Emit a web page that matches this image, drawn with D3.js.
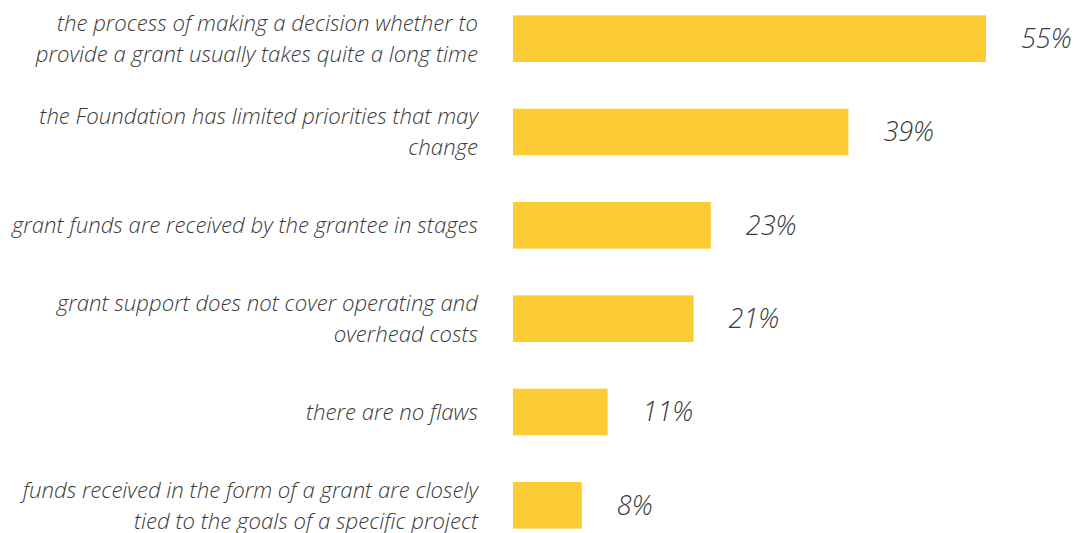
<!DOCTYPE html>
<html><head><meta charset="utf-8">
<script src="https://cdn.jsdelivr.net/npm/d3@7"></script>
<style>body{margin:0;background:#fff}</style>
</head><body>
<svg id="c" width="1075" height="533"></svg>
<script>
const categories = [
  ["the process of making a decision whether to", "provide a grant usually takes quite a long time"],
  ["the Foundation has limited priorities that may", "change"],
  ["grant funds are received by the grantee in stages"],
  ["grant support does not cover operating and", "overhead costs"],
  ["there are no flaws"],
  ["funds received in the form of a grant are closely", "tied to the goals of a specific project"]
];
const values = [55, 39, 23, 21, 11, 8];
const valueLabels = ["55%", "39%", "23%", "21%", "11%", "8%"];

const svg = d3.select("#c");
const x = d3.scaleLinear().domain([0, 55]).range([513, 986]);
const y = d3.scaleBand().domain(d3.range(values.length)).range([-8, 552]).paddingInner(0.5).paddingOuter(0.25);

svg.selectAll("rect").data(values).join("rect")
  .attr("x", x(0)).attr("y", (d,i)=>y(i))
  .attr("width", d=>x(d)-x(0)).attr("height", y.bandwidth())
  .attr("fill", "#FDCB33");

svg.selectAll("text.val").data(values).join("text").attr("class","val")
  .attr("x", d=>x(d)+35).attr("y", (d,i)=>y(i)+y.bandwidth()/2)
  .attr("dy", "0.35em")
  .attr("font-family", "Open Sans").attr("font-style","italic").attr("font-weight",300)
  .attr("font-size", 27).attr("fill", "#3a3a3a")
  .text((d,i)=>valueLabels[i]);

const lh = 31;
categories.forEach((lines, i) => {
  const cy = y(i) + y.bandwidth()/2;
  const t = svg.append("text")
    .attr("text-anchor","end")
    .attr("font-family","Open Sans").attr("font-style","italic").attr("font-weight",300)
    .attr("font-size",22.2).attr("fill","#3a3a3a");
  lines.forEach((l, j) => {
    t.append("tspan").attr("x", 478)
      .attr("y", cy + (j - (lines.length-1)/2)*lh)
      .attr("dy","0.35em").text(l);
  });
});
</script>
</body></html>
